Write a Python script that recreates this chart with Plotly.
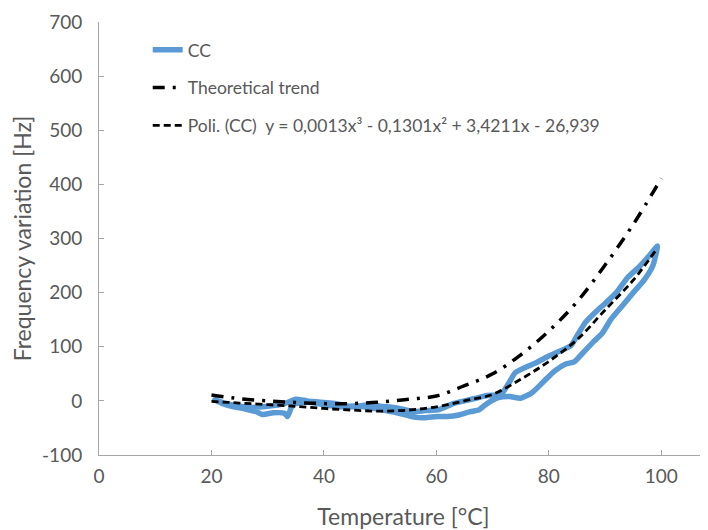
import plotly.graph_objects as go

# CC measured loop (heating branch then cooling branch)
cc_temp = [20.5, 22, 24, 26, 28, 29, 31, 33, 33.5, 34.5, 37, 40, 43, 46, 50, 53, 56, 58, 60, 62,
           64, 66, 67.5, 69, 71, 73, 75, 77, 79, 81, 83, 84.5, 86, 88, 89.5, 91, 93, 95, 97, 98.5, 99.3,
           98, 96, 94, 92, 90, 88.5, 86.5, 85, 84, 82, 80, 78, 76.5, 74, 73, 71.5, 69, 67.5, 65, 63,
           60.5, 58, 56, 53, 50, 48, 45, 42, 40, 37, 35, 33, 30, 27, 24, 22, 20.5]
cc_freq = [2, -5, -11, -15, -20, -25, -22, -23, -29, -7, -2, -7, -11, -9, -16, -22, -30, -31, -29, -29,
           -26, -20, -17, -5, 6, 8, 5, 15, 35, 55, 68, 72, 88, 110, 125, 150, 175, 200, 224, 250, 286,
           270, 247, 228, 200, 180, 166, 145, 120, 103, 92, 83, 72, 65, 52, 35, 12, 10, 6, 0, -5,
           -16, -18, -20, -13, -10, -7, -11, -5, -3, 0, 3, -5, -10, -12, -8, -3, 3]

# Theoretical trend
th_temp = [20, 25, 30, 35, 40, 45, 50, 55, 60, 65, 70, 75, 80, 85, 90, 95, 100]
th_freq = [11, 4, 0, -3, -5, -5, -2, 3, 9, 28, 50, 85, 129, 183, 251, 326, 411]

# Polynomial trendline
po_temp = [20, 25, 30, 35, 40, 45, 50, 55, 60, 65, 70, 75, 80, 85, 90, 95, 99]
po_freq = [-1, -4, -7, -10, -14, -17, -19, -17, -11, 0, 12, 40, 73, 113, 168, 223, 278]

x_ticks = [0, 20, 40, 60, 80, 100]
y_ticks = [-100, 0, 100, 200, 300, 400, 500, 600, 700]

FONT = "Lato, 'Open Sans', sans-serif"
GREY_TXT = "#595959"
AXIS = "#A6A6A6"

fig = go.Figure()
fig.add_trace(go.Scatter(
    x=cc_temp, y=cc_freq, mode="lines+markers", name="CC", legendgroup="a",
    line=dict(color="#5B9BD5", width=5.5, shape="spline", smoothing=0.5),
    marker=dict(size=4, color="#5B9BD5"),
))
fig.add_trace(go.Scatter(
    x=th_temp, y=th_freq, mode="lines", name="Theoretical trend", legendgroup="b",
    line=dict(color="black", width=3.5, dash="12px,8px,3px,8px", shape="spline"),
))
fig.add_trace(go.Scatter(
    x=po_temp, y=po_freq, mode="lines", legendgroup="c",
    name="Poli. (CC)  y = 0,0013x³ - 0,1301x² + 3,4211x - 26,939",
    line=dict(color="black", width=2.8, dash="7px,4px", shape="spline"),
))

# the page body adds an 8px offset, so the figure is 8px smaller and margins compensated
fig.update_layout(
    width=700, height=522,
    margin=dict(l=91, r=0, t=14, b=75),
    paper_bgcolor="white", plot_bgcolor="white",
    font=dict(family=FONT, color=GREY_TXT),
    legend=dict(x=0.08, y=0.977, xanchor="left", yanchor="top",
                bgcolor="rgba(0,0,0,0)", font=dict(size=17.5, color=GREY_TXT),
                tracegroupgap=12),
    showlegend=True,
)
fig.update_xaxes(
    range=[0, 108.3], tickvals=x_ticks, ticktext=[str(v) for v in x_ticks],
    showgrid=False, zeroline=False, showline=True, linecolor=AXIS, linewidth=1,
    ticks="inside", ticklen=5, tickcolor=AXIS, automargin=False,
    tickfont=dict(size=19, color=GREY_TXT), ticklabelstandoff=4,
    title=dict(text="Temperature [°C]", font=dict(size=23, color=GREY_TXT), standoff=23),
)
fig.update_yaxes(
    range=[-100, 700], tickvals=y_ticks, ticktext=[str(v) for v in y_ticks],
    showgrid=False, zeroline=False, showline=True, linecolor=AXIS, linewidth=1,
    ticks="inside", ticklen=5, tickcolor=AXIS, automargin=False,
    tickfont=dict(size=19, color=GREY_TXT), ticklabelstandoff=12,
    title=dict(text="Frequency variation [Hz]", font=dict(size=23, color=GREY_TXT), standoff=8),
)

fig.write_html("out.html")
